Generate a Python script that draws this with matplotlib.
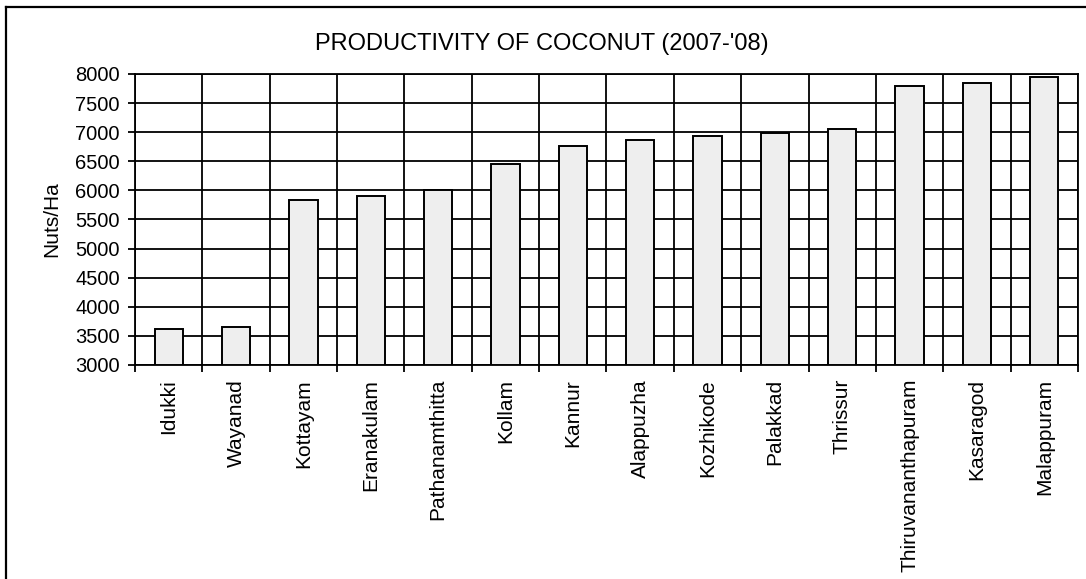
import matplotlib
matplotlib.use("Agg")
import matplotlib.pyplot as plt
from matplotlib.lines import Line2D

plt.rcParams['font.family'] = ['Liberation Sans', 'DejaVu Sans']

districts = ["Idukki", "Wayanad", "Kottayam", "Eranakulam", "Pathanamthitta", "Kollam",
             "Kannur", "Alappuzha", "Kozhikode", "Palakkad", "Thrissur",
             "Thiruvananthapuram", "Kasaragod", "Malappuram"]
productivity = [3620, 3650, 5840, 5910, 6000, 6460, 6770, 6870, 6940, 6980, 7050,
                7800, 7840, 7940]
yticks = list(range(3000, 8001, 500))

W, H = 1086, 579
fig = plt.figure(figsize=(W / 100, H / 100), dpi=100)
ax = fig.add_axes([135 / W, 1 - 365 / H, (1078 - 135) / W, (365 - 74) / H])

x = list(range(len(districts)))
ax.bar(x, [v - 3000 for v in productivity], bottom=3000, width=0.42,
       color="#eeeeee", edgecolor="black", linewidth=1.4, zorder=3)

ax.set_xlim(-0.5, len(districts) - 0.5)
ax.set_ylim(3000, 8000)
ax.set_yticks(yticks)
ax.set_yticklabels([str(t) for t in yticks], fontsize=14.5)
ax.set_xticks(x)
ax.set_xticklabels(districts, rotation=90, fontsize=15)
ax.tick_params(axis='x', length=0, pad=10)
ax.set_xticks([i - 0.5 for i in range(len(districts) + 1)], minor=True)
ax.tick_params(axis='x', which='minor', length=5, width=1.3, direction='out')
ax.tick_params(axis='y', length=5, width=1.3, direction='out', pad=6)
ax.grid(axis='y', which='major', color='black', linewidth=1.3, zorder=0)
ax.grid(axis='x', which='minor', color='black', linewidth=1.3, zorder=0)
ax.set_axisbelow(True)
for s in ax.spines.values():
    s.set_linewidth(1.3)
ax.set_ylabel("Nuts/Ha", fontsize=15, labelpad=10)

fig.text(542 / W, 1 - 44 / H, "PRODUCTIVITY OF COCONUT (2007-'08)", fontsize=17,
         ha='center', va='center')

fig.lines.append(Line2D([6 / W, 6 / W], [0, 1 - 7 / H], transform=fig.transFigure,
                        color='black', linewidth=1.6))
fig.lines.append(Line2D([6 / W, 1], [1 - 7 / H, 1 - 7 / H], transform=fig.transFigure,
                        color='black', linewidth=1.6))

fig.savefig("out.png", dpi=100)
